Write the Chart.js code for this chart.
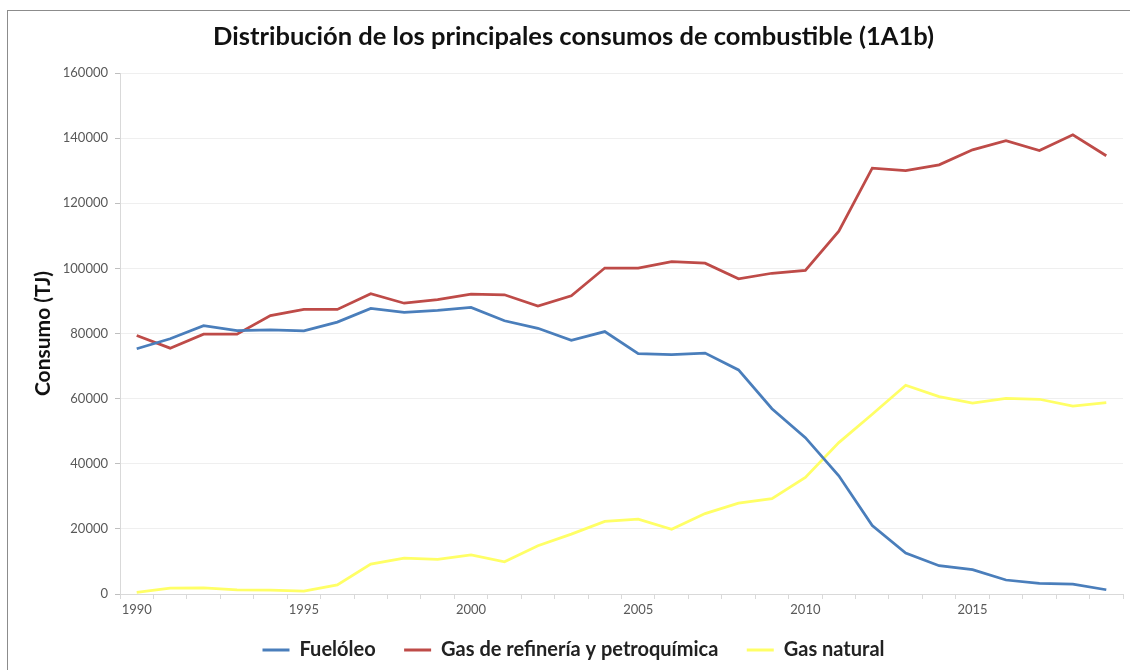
<!DOCTYPE html>
<html>
<head>
<meta charset="utf-8">
<script src="https://cdn.jsdelivr.net/npm/chart.js@4"></script>
<style>
  html, body { margin: 0; padding: 0; background: #fff; }
  #wrap { width: 1130px; height: 670px; }
</style>
</head>
<body>
<div id="wrap"><canvas id="grafico" width="1130" height="670"></canvas></div>
<script>
// años (categorías)
const years = [1990, 1991, 1992, 1993, 1994, 1995, 1996, 1997, 1998, 1999,
               2000, 2001, 2002, 2003, 2004, 2005, 2006, 2007, 2008, 2009,
               2010, 2011, 2012, 2013, 2014, 2015, 2016, 2017, 2018, 2019];

// consumos en TJ
const fueloleo = [75300, 78400, 82400, 80900, 81100, 80800, 83500, 87700, 86500, 87100,
                  88000, 83900, 81600, 77900, 80600, 73800, 73500, 74000, 68800, 56900,
                  48000, 36300, 21000, 12600, 8700, 7500, 4300, 3300, 3000, 1300];
const gasRefineria = [79400, 75500, 79800, 79800, 85500, 87400, 87400, 92200, 89300, 90400,
                      92100, 91900, 88400, 91600, 100100, 100100, 102100, 101600, 96800, 98500,
                      99400, 111400, 130800, 130000, 131800, 136400, 139200, 136200, 141000, 134600];
const gasNatural = [500, 1800, 1900, 1300, 1200, 900, 2800, 9200, 11000, 10600,
                    12000, 9900, 14800, 18400, 22300, 23000, 19900, 24700, 27900, 29300,
                    35800, 46500, 55200, 64100, 60600, 58600, 60100, 59800, 57700, 58800];

const seriesNames = ['Fuelóleo', 'Gas de refinería y petroquímica', 'Gas natural'];
const yTicks = { min: 0, max: 160000, step: 20000 };

const fontFam = 'Lato, "Open Sans", sans-serif';

// marco gris alrededor del gráfico (como en Excel)
const marcoPlugin = {
  id: 'marco',
  beforeDraw: (chart) => {
    const ctx = chart.ctx;
    ctx.save();
    ctx.fillStyle = '#ffffff';
    ctx.fillRect(0, 0, chart.width, chart.height);
    ctx.strokeStyle = '#8c8c8c';
    ctx.lineWidth = 1;
    ctx.strokeRect(7.5, 10.5, chart.width + 20, chart.height + 20);
    ctx.restore();
  }
};

const ctx = document.getElementById('grafico');

new Chart(ctx, {
  type: 'line',
  data: {
    labels: years,
    datasets: [
      { label: seriesNames[0], data: fueloleo, borderColor: '#4a7ebb', backgroundColor: '#4a7ebb' },
      { label: seriesNames[1], data: gasRefineria, borderColor: '#be4b48', backgroundColor: '#be4b48' },
      { label: seriesNames[2], data: gasNatural, borderColor: '#ffff66', backgroundColor: '#ffff66' }
    ]
  },
  options: {
    responsive: false,
    animation: false,
    layout: { padding: { left: 24, right: 7, top: 0, bottom: 0 } },
    elements: {
      line: { borderWidth: 2.75, tension: 0 },
      point: { radius: 0, hoverRadius: 0 }
    },
    plugins: {
      tooltip: { enabled: false },
      title: {
        display: true,
        text: 'Distribución de los principales consumos de combustible (1A1b)',
        color: '#111111',
        font: { family: fontFam, size: 25.5, weight: 'bold' },
        padding: { top: 21.7, bottom: 20.7 }
      },
      legend: {
        position: 'bottom',
        labels: {
          color: '#222222',
          font: { family: fontFam, size: 20, weight: 'bold' },
          usePointStyle: true,
          pointStyle: 'line',
          pointStyleWidth: 27,
          padding: 9,
          // separación entre elementos de la leyenda
          generateLabels: (chart) => {
            const items = Chart.defaults.plugins.legend.labels.generateLabels(chart);
            items.forEach((it, i) => {
              it.lineWidth = 3;
              if (i < items.length - 1) it.text = it.text + '    ';
            });
            return items;
          }
        }
      }
    },
    scales: {
      x: {
        offset: true,
        grid: { offset: true, drawOnChartArea: false, drawTicks: true, tickLength: 5, color: '#d9d9d9' },
        border: { color: '#d9d9d9' },
        ticks: {
          autoSkip: false,
          maxRotation: 0,
          padding: 3,
          color: '#595959',
          font: { family: fontFam, size: 13 },
          callback: function(v, i) {
            return years[i] % 5 === 0 ? String(years[i]) : '';
          }
        },
        afterFit: (scale) => { scale.height = 37; }
      },
      y: {
        min: yTicks.min,
        max: yTicks.max,
        ticks: {
          stepSize: yTicks.step,
          padding: 7,
          color: '#595959',
          font: { family: fontFam, size: 13 },
          callback: (v) => String(v)
        },
        grid: { color: '#efefef', tickColor: '#bfbfbf', tickLength: 5 },
        border: { color: '#d9d9d9' },
        title: {
          display: true,
          text: 'Consumo (TJ)',
          color: '#111111',
          font: { family: fontFam, size: 21, weight: 'bold' },
          padding: { top: 7, bottom: 0 }
        },
        afterFit: (scale) => { scale.width = 96; }
      }
    }
  },
  plugins: [marcoPlugin]
});
</script>
</body>
</html>
